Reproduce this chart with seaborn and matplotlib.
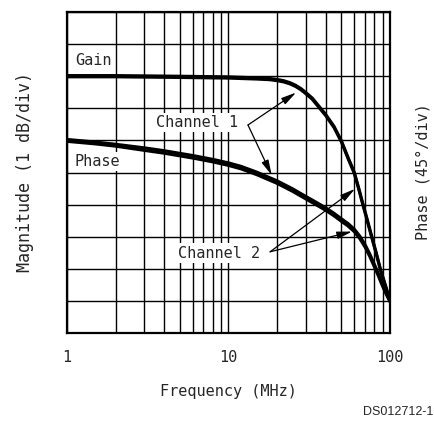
import matplotlib.pyplot as plt
import pandas as pd
import seaborn as sns
from matplotlib.ticker import LogLocator, NullFormatter

# values (y in grid divisions, 0 = bottom, 10 = top)
gain_freq = [1, 2, 5, 10, 15, 18, 20, 22, 24, 26, 28, 30, 33, 36, 40, 45, 50,
             55, 60, 64, 68, 72, 77, 82, 87, 92, 96, 100]
gain_ch1 = [8.02, 8.02, 8.0, 7.98, 7.95, 7.93, 7.90, 7.86, 7.80, 7.72, 7.62, 7.50, 7.32, 7.09,
            6.81, 6.44, 5.99, 5.47, 5.02, 4.52, 4.02, 3.57, 3.02, 2.52, 2.02, 1.62, 1.32, 1.07]
gain_ch2 = [7.98, 7.98, 7.96, 7.94, 7.91, 7.89, 7.86, 7.82, 7.76, 7.68, 7.58, 7.46, 7.28, 7.05,
            6.77, 6.40, 5.95, 5.43, 4.98, 4.48, 3.98, 3.53, 2.98, 2.48, 1.98, 1.58, 1.28, 1.03]

phase_freq = [1, 1.5, 2, 3, 4, 6, 8, 10, 12, 15, 20, 25, 30, 35, 40, 45, 50,
              55, 60, 65, 70, 75, 80, 85, 89, 93, 97, 100]
phase_ch1 = [6.03, 5.95, 5.88, 5.77, 5.68, 5.53, 5.41, 5.30, 5.19, 5.01, 4.74, 4.49, 4.26, 4.07,
             3.90, 3.73, 3.56, 3.41, 3.24, 3.02, 2.76, 2.46, 2.14, 1.84, 1.59, 1.37, 1.16, 1.03]
phase_ch2 = [5.97, 5.89, 5.82, 5.69, 5.60, 5.45, 5.33, 5.22, 5.11, 4.93, 4.66, 4.41, 4.18, 3.99,
             3.82, 3.65, 3.48, 3.33, 3.16, 2.94, 2.68, 2.38, 2.06, 1.76, 1.51, 1.29, 1.10, 0.97]

x_ticks = [1, 10, 100]
x_tick_labels = ['1', '10', '100']

sns.set_style('white')
plt.rcParams['font.family'] = ['DejaVu Sans Mono', 'DejaVu Sans']

rows = []
for name, freq, vals in [('gain_ch1', gain_freq, gain_ch1), ('gain_ch2', gain_freq, gain_ch2),
                         ('phase_ch1', phase_freq, phase_ch1), ('phase_ch2', phase_freq, phase_ch2)]:
    for f, v in zip(freq, vals):
        rows.append({'trace': name, 'freq': f, 'value': v})
df = pd.DataFrame(rows)

fig = plt.figure(figsize=(4.35, 4.26), dpi=100)
ax = fig.add_axes([67 / 435, 1 - 333 / 426, 323 / 435, 321 / 426])

sns.lineplot(data=df, x='freq', y='value', units='trace', estimator=None,
             color='black', lw=2.2, ax=ax, zorder=4)

ax.set_xscale('log')
ax.set_xlim(1, 100)
ax.set_ylim(0, 10)
ax.set_xticks(x_ticks, x_tick_labels)
ax.xaxis.set_minor_locator(LogLocator(base=10, subs=range(2, 10)))
ax.xaxis.set_minor_formatter(NullFormatter())
ax.set_yticks(range(0, 11))
ax.set_yticklabels([])
ax.tick_params(which='both', length=0)
ax.tick_params(axis='x', labelsize=11, pad=12)
ax.grid(True, which='both', color='black', lw=1.0)
for s in ax.spines.values():
    s.set_linewidth(1.6)
    s.set_color('black')

ax.set_xlabel('Frequency (MHz)', fontsize=11, labelpad=14)
ax.set_ylabel('')

white = dict(facecolor='white', edgecolor='none', pad=1.5)
arrow = dict(arrowstyle='-|>,head_length=0.9,head_width=0.22', color='black',
             lw=0.9, shrinkA=0, shrinkB=0)

ax.text(1.12, 8.5, 'Gain', fontsize=11, ha='left', va='center', bbox=white, zorder=5)
ax.text(1.12, 5.34, 'Phase', fontsize=11, ha='left', va='center', bbox=white, zorder=5)

ax.text(6.35, 6.55, 'Channel 1', fontsize=11, ha='center', va='center', bbox=white, zorder=5)
ax.annotate('', xy=(26.2, 7.49), xytext=(13.2, 6.48), arrowprops=arrow, zorder=6)
ax.annotate('', xy=(18.5, 4.92), xytext=(13.2, 6.48), arrowprops=arrow, zorder=6)

ax.text(8.73, 2.49, 'Channel 2', fontsize=11, ha='center', va='center', bbox=white, zorder=5)
ax.annotate('', xy=(60.7, 4.49), xytext=(18.1, 2.53), arrowprops=arrow, zorder=6)
ax.annotate('', xy=(58.2, 3.16), xytext=(18.1, 2.53), arrowprops=arrow, zorder=6)

fig.text(25 / 435, 1 - 172 / 426, 'Magnitude (1 dB/div)', rotation=90,
         ha='center', va='center', fontsize=12)
fig.text(423 / 435, 1 - 172 / 426, 'Phase (45°/div)', rotation=90,
         ha='center', va='center', fontsize=11)
fig.text(433 / 435, 1 - 412 / 426, 'DS012712-1', ha='right', va='center',
         fontsize=9, family='Liberation Sans')

fig.savefig('out.png', dpi=100)
